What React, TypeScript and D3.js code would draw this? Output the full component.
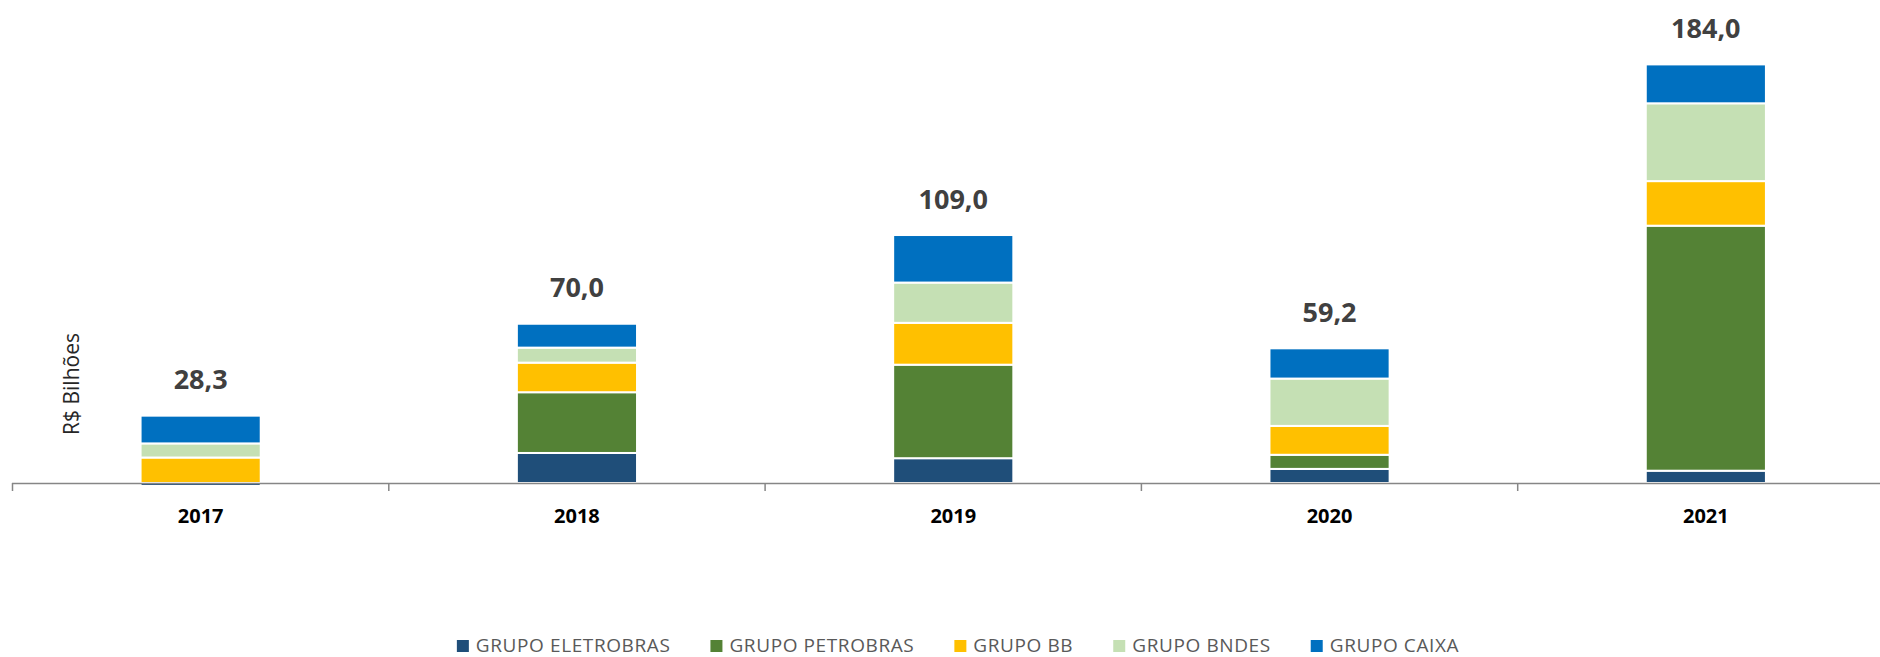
import React, { useEffect, useMemo } from "react"
import * as d3 from "d3"

// Data (R$ bilhões)
const years = ["2017", "2018", "2019", "2020", "2021"]
const seriesNames = [
  "GRUPO ELETROBRAS",
  "GRUPO PETROBRAS",
  "GRUPO BB",
  "GRUPO BNDES",
  "GRUPO CAIXA"
]
const eletrobras = [-1.3, 13.2, 10.9, 6.2, 5.4]
const petrobras = [0, 26.7, 41.1, 6.2, 107.7]
const bb = [11.2, 13.0, 18.4, 12.7, 19.6]
const bndes = [6.2, 6.6, 17.7, 20.8, 34.2]
const caixa = [12.2, 10.5, 20.9, 13.3, 17.1]
const totals = [28.3, 70.0, 109.0, 59.2, 184.0]
const colors = ["#1F4E79", "#548235", "#FFC000", "#C5E0B4", "#0070C0"]

const FONT = "'Open Sans', 'DejaVu Sans', sans-serif"

function measure(text: string, font: string, spacing: number) {
  const c = document.createElement("canvas").getContext("2d")
  if (!c) return text.length * 10
  c.font = font
  return c.measureText(text).width + spacing * text.length
}

export default function App() {
  useEffect(() => {
    document.body.style.margin = "0"
  }, [])

  // Dimensions
  const totalW = 1880
  const totalH = 657
  const baseY = 483
  const pxPerUnit = 2.275

  // Table built from the arrays
  const rows = years.map((y, i) => ({
    year: y,
    [seriesNames[0]]: eletrobras[i],
    [seriesNames[1]]: petrobras[i],
    [seriesNames[2]]: bb[i],
    [seriesNames[3]]: bndes[i],
    [seriesNames[4]]: caixa[i]
  }))

  const stacked = d3
    .stack<any>()
    .keys(seriesNames)
    .offset(d3.stackOffsetDiverging)(rows)

  // Scales
  const xScale = d3.scaleBand().domain(years).range([12.5, 1894]).padding(0)
  const barW = xScale.bandwidth() * 0.314
  const yScale = d3
    .scaleLinear()
    .domain([0, 200])
    .range([baseY, baseY - 200 * pxPerUnit])

  const fmt = (v: number) => d3.format(".1f")(v).replace(".", ",")

  // Legend layout
  const legendFont = `19px ${FONT}`
  const legendSpacing = 0.6
  const legendItems = useMemo(() => {
    const widths = seriesNames.map(n => measure(n, legendFont, legendSpacing))
    const itemW = widths.map(w => 12 + 7 + w)
    const gap = 40
    const full = d3.sum(itemW) + gap * (seriesNames.length - 1)
    let x = 958 - full / 2
    return seriesNames.map((n, i) => {
      const item = { name: n, x, color: colors[i] }
      x += itemW[i] + gap
      return item
    })
  }, [])

  const tickXs = [...years.map(y => xScale(y) as number), xScale.range()[1]]

  return (
    <svg width={totalW} height={totalH} style={{ display: "block" }}>
      <rect width={totalW} height={totalH} fill="white" />

      {/* Bars */}
      {stacked.map((s, si) =>
        s.map((d, i) => {
          const x0 = (xScale(years[i]) as number) + xScale.bandwidth() / 2
          const top = yScale(Math.max(d[0], d[1]))
          const bot = yScale(Math.min(d[0], d[1]))
          if (bot - top <= 0) return null
          return (
            <rect
              key={`${si}-${i}`}
              x={x0 - barW / 2 - 1}
              y={top}
              width={barW + 2}
              height={bot - top}
              fill={colors[si]}
              stroke="white"
              strokeWidth={2}
            />
          )
        })
      )}

      {/* Totals */}
      {years.map((y, i) => {
        const posTop = d3.max(stacked, s => s[i][1]) as number
        return (
          <text
            key={`t-${y}`}
            x={(xScale(y) as number) + xScale.bandwidth() / 2}
            y={yScale(posTop) - 26.5}
            textAnchor="middle"
            fontFamily={FONT}
            fontWeight="bold"
            fontSize="27px"
            fill="#404040"
          >
            {fmt(totals[i])}
          </text>
        )
      })}

      {/* Axis */}
      <line
        x1={12}
        x2={totalW}
        y1={baseY + 0.5}
        y2={baseY + 0.5}
        stroke="#868686"
        strokeWidth={1.5}
      />
      {tickXs.map((tx, i) => (
        <line
          key={`tick-${i}`}
          x1={tx}
          x2={tx}
          y1={baseY}
          y2={baseY + 8}
          stroke="#868686"
          strokeWidth={1.5}
        />
      ))}
      {years.map(y => (
        <text
          key={`lab-${y}`}
          x={(xScale(y) as number) + xScale.bandwidth() / 2}
          y={522.5}
          textAnchor="middle"
          fontFamily={FONT}
          fontWeight="bold"
          fontSize="20px"
          fill="#000"
        >
          {y}
        </text>
      ))}

      {/* Y title */}
      <text
        transform="translate(78.5, 384) rotate(-90)"
        textAnchor="middle"
        fontFamily={FONT}
        fontSize="21px"
        fill="#262626"
      >
        R$ Bilhões
      </text>

      {/* Legend */}
      {legendItems.map(it => (
        <g key={it.name} transform={`translate(${it.x}, 0)`}>
          <rect x={0} y={640} width={12} height={12} fill={it.color} />
          <text
            x={19}
            y={652}
            fontFamily={FONT}
            fontSize="19px"
            letterSpacing={legendSpacing}
            fill="#595959"
          >
            {it.name}
          </text>
        </g>
      ))}
    </svg>
  )
}
